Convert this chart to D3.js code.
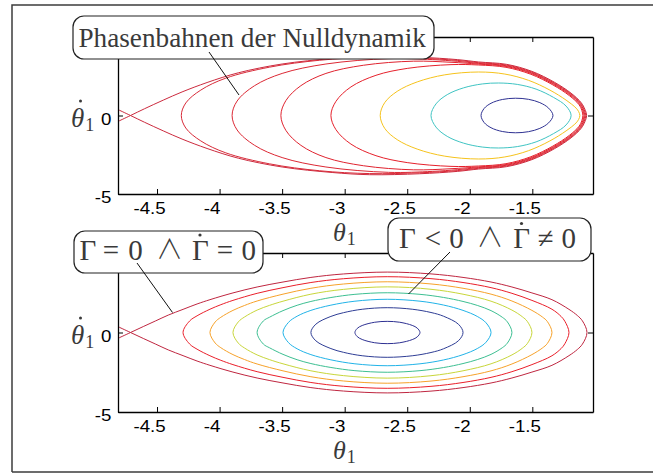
<!DOCTYPE html>
<html>
<head>
<meta charset="utf-8">
<script src="https://cdn.jsdelivr.net/npm/d3@7"></script>
<style>
  body { margin: 0; background: #fff; }
  svg { display: block; }
</style>
</head>
<body>
<svg id="fig" width="653" height="473"></svg>
<script>
// ---- axes ----
const xDomain = [-4.812, -1.015];
const yDomain = [-5, 5];
const xTicks = [-4.5, -4, -3.5, -3, -2.5, -2, -1.5];
const xTickLabels = ["-4.5", "-4", "-3.5", "-3", "-2.5", "-2", "-1.5"];
const yTicks = [-5, 0, 5];
const yTickLabels = ["-5", "0", ""];

// ---- upper halves of the phase orbits [theta1, dtheta1]; lower halves mirror them ----
// zero dynamics, upper panel
const topSeparatrix = [[-4.81,-0.37],[-4.712,0],[-4.6,0.43],[-4.45,0.98],[-4.3,1.5],[-4.1,2.1],[-3.85,2.72],[-3.5,3.28],[-3.1,3.63],[-2.8,3.77],[-2.4,3.71],[-2.1,3.56],[-1.93,3.41],[-1.707,3.26],[-1.503,2.81],[-1.324,2.12],[-1.19,1.42],[-1.11,0.82],[-1.08,0.4],[-1.066,0]];
const topOrbit1 = [[-4.306,0],[-4.27,0.8],[-4.15,1.62],[-3.95,2.38],[-3.6,3.08],[-3.2,3.52],[-2.8,3.70],[-2.4,3.65],[-2.1,3.51],[-1.93,3.363],[-1.708,3.215],[-1.505,2.767],[-1.327,2.08],[-1.193,1.385],[-1.114,0.79],[-1.086,0.38],[-1.073,0]];
const topOrbit2 = [[-3.90,0],[-3.86,0.92],[-3.72,1.9],[-3.5,2.68],[-3.15,3.28],[-2.65,3.62],[-2.3,3.56],[-2.1,3.45],[-1.93,3.318],[-1.709,3.17],[-1.507,2.724],[-1.330,2.04],[-1.196,1.35],[-1.118,0.76],[-1.091,0.36],[-1.08,0]];
const topOrbit3 = [[-3.51,0],[-3.47,0.95],[-3.35,1.9],[-3.15,2.68],[-2.85,3.2],[-2.45,3.46],[-2.15,3.39],[-1.93,3.274],[-1.710,3.126],[-1.509,2.682],[-1.333,2.0],[-1.2,1.31],[-1.123,0.725],[-1.097,0.34],[-1.087,0]];
const topOrbit4 = [[-3.11,0],[-3.07,0.9],[-2.95,1.82],[-2.75,2.56],[-2.5,3.0],[-2.15,3.24],[-1.93,3.217],[-1.711,3.07],[-1.512,2.627],[-1.336,1.95],[-1.204,1.265],[-1.127,0.69],[-1.104,0.32],[-1.096,0]];
const topOrbit5 = [[-2.716,0],[-2.68,0.82],[-2.58,1.54],[-2.42,2.14],[-2.20,2.59],[-1.93,2.77],[-1.72,2.64],[-1.53,2.24],[-1.36,1.62],[-1.23,0.98],[-1.15,0.47],[-1.13,0.25],[-1.12,0]];
const topOrbit6 = [[-2.31,0],[-2.27,0.74],[-2.18,1.33],[-2.05,1.76],[-1.90,2.01],[-1.77,2.07],[-1.62,1.98],[-1.47,1.68],[-1.33,1.15],[-1.23,0.6],[-1.19,0]];
const topOrbit7 = [[-1.91,0],[-1.885,0.45],[-1.83,0.78],[-1.74,1.02],[-1.635,1.10],[-1.53,1.03],[-1.44,0.82],[-1.37,0.47],[-1.335,0]];

// lower panel
const botSeparatrix = [[-4.81,-0.36],[-4.712,0],[-4.61,0.374],[-4.51,0.735],[-4.41,1.095],[-4.292,1.456],[-4.18,1.794],[-4.077,2.064],[-3.893,2.49],[-3.70,2.862],[-3.493,3.175],[-3.27,3.465],[-3.01,3.682],[-2.66,3.80],[-2.31,3.686],[-2.054,3.465],[-1.83,3.175],[-1.663,2.862],[-1.503,2.49],[-1.343,2.064],[-1.207,1.456],[-1.14,1.068],[-1.10,0.735],[-1.063,0]];
const botOrbit1 = [[-4.292,0],[-4.24,0.72],[-4.18,1.049],[-4.077,1.463],[-3.99,1.749],[-3.893,2.02],[-3.70,2.464],[-3.493,2.821],[-3.27,3.144],[-3.01,3.382],[-2.66,3.51],[-2.31,3.386],[-2.054,3.144],[-1.83,2.821],[-1.663,2.464],[-1.503,2.02],[-1.343,1.463],[-1.27,1.01],[-1.24,0.707],[-1.207,0]];
const botOrbit2 = [[-4.077,0],[-4.035,0.663],[-3.99,0.957],[-3.893,1.391],[-3.80,1.702],[-3.70,1.981],[-3.493,2.412],[-3.27,2.782],[-3.01,3.049],[-2.66,3.19],[-2.31,3.054],[-2.054,2.782],[-1.83,2.412],[-1.663,1.981],[-1.503,1.391],[-1.42,0.978],[-1.38,0.69],[-1.343,0]];
const botOrbit3 = [[-3.893,0],[-3.85,0.67],[-3.80,0.978],[-3.70,1.41],[-3.60,1.708],[-3.493,1.969],[-3.27,2.409],[-3.01,2.712],[-2.66,2.87],[-2.31,2.718],[-2.054,2.409],[-1.83,1.969],[-1.663,1.41],[-1.58,0.991],[-1.54,0.696],[-1.503,0]];
const botOrbit4 = [[-3.70,0],[-3.65,0.728],[-3.60,0.964],[-3.493,1.375],[-3.38,1.712],[-3.27,1.953],[-3.11,2.2],[-2.918,2.4],[-2.66,2.5],[-2.398,2.4],[-2.21,2.205],[-2.054,1.953],[-1.94,1.704],[-1.83,1.375],[-1.74,0.958],[-1.70,0.673],[-1.663,0]];
const botOrbit5 = [[-3.493,0],[-3.45,0.631],[-3.38,1.025],[-3.27,1.391],[-3.11,1.72],[-2.918,1.969],[-2.66,2.09],[-2.398,1.969],[-2.21,1.727],[-2.054,1.391],[-1.94,1.01],[-1.87,0.61],[-1.83,0]];
const botOrbit6 = [[-3.27,0],[-3.23,0.526],[-3.11,1.012],[-3.01,1.246],[-2.86,1.462],[-2.66,1.56],[-2.46,1.464],[-2.31,1.258],[-2.21,1.024],[-2.09,0.514],[-2.054,0]];
const botOrbit7 = [[-2.918,0],[-2.90,0.255],[-2.86,0.44],[-2.76,0.644],[-2.66,0.70],[-2.56,0.645],[-2.46,0.447],[-2.42,0.276],[-2.398,0]];

// ---- styling ----
const topOrbits = [topOrbit1, topOrbit2, topOrbit3, topOrbit4, topOrbit5, topOrbit6, topOrbit7];
const topColors = ["#d82a38", "#dc2834", "#e0232f", "#e6202b", "#f6c31c", "#3fc4c3", "#2e3192"];
const topSepColor = "#cc2a3e";
const botOrbits = [botOrbit1, botOrbit2, botOrbit3, botOrbit4, botOrbit5, botOrbit6, botOrbit7];
const botColors = ["#ea1f2a", "#f7a22a", "#c8d63a", "#3dbf92", "#21b3e8", "#2e3d95", "#2e3192"];
const botSepColor = "#bf2640";

const serif = "'Liberation Serif', 'Times New Roman', serif";
const sans = "'Liberation Sans', Arial, sans-serif";
const wedgeFont = "'Noto Sans CJK JP', 'Noto Sans CJK SC', 'DejaVu Sans', sans-serif";
const textGrey = "#3a3a3a";

const svg = d3.select("#fig");

// figure frame
svg.append("path")
  .attr("d", "M12,472V5H653M12,472H653")
  .attr("fill", "none").attr("stroke", "#3c3c3c").attr("stroke-width", 1.5);

// closed orbit: upper half then mirrored lower half
function closedOrbit(upper) {
  const lower = upper.slice(1, -1).reverse().map(([t, w]) => [t, -w]);
  return upper.concat(lower);
}
// separatrix: runs through the saddle and back
function openSeparatrix(upper) {
  const lower = upper.slice(0, -1).reverse().map(([t, w]) => [t, -w]);
  return upper.concat(lower);
}

function drawPanel(box, sep, sepColor, orbits, colors, id) {
  const x = d3.scaleLinear().domain(xDomain).range([box.left, box.right]);
  const y = d3.scaleLinear().domain(yDomain).range([box.bottom, box.top]);
  const g = svg.append("g");

  g.append("clipPath").attr("id", id)
    .append("rect")
    .attr("x", box.left).attr("y", box.top)
    .attr("width", box.right - box.left).attr("height", box.bottom - box.top);

  const plot = g.append("g").attr("clip-path", `url(#${id})`);
  const closed = d3.line().x(d => x(d[0])).y(d => y(d[1])).curve(d3.curveCatmullRomClosed.alpha(0.5));
  const open = d3.line().x(d => x(d[0])).y(d => y(d[1])).curve(d3.curveCatmullRom.alpha(0.5));

  plot.append("path").attr("d", open(openSeparatrix(sep)))
    .attr("fill", "none").attr("stroke", sepColor).attr("stroke-width", 1);
  orbits.forEach((o, i) => {
    plot.append("path").attr("d", closed(closedOrbit(o)))
      .attr("fill", "none").attr("stroke", colors[i]).attr("stroke-width", 1);
  });

  // axes: ticks point inward on all four sides
  const ax = [
    d3.axisBottom(x).tickValues(xTicks).tickFormat((d, i) => xTickLabels[i]).tickSizeInner(-5).tickSizeOuter(0).tickPadding(8),
    d3.axisTop(x).tickValues(xTicks).tickFormat("").tickSizeInner(-5).tickSizeOuter(0),
    d3.axisLeft(y).tickValues(yTicks).tickFormat((d, i) => yTickLabels[i]).tickSizeInner(-5).tickSizeOuter(0).tickPadding(6),
    d3.axisRight(y).tickValues(yTicks).tickFormat("").tickSizeInner(-5).tickSizeOuter(0)
  ];
  const pos = [`translate(0,${box.bottom})`, `translate(0,${box.top})`, `translate(${box.left},0)`, `translate(${box.right},0)`];
  ax.forEach((a, i) => {
    const ag = g.append("g").attr("transform", pos[i]).call(a);
    ag.select(".domain").attr("stroke", "#000").attr("stroke-width", 1.3);
    ag.selectAll(".tick line").attr("stroke", "#000").attr("stroke-width", 1);
    ag.selectAll("text").attr("fill", "#000")
      .style("font-family", sans).style("font-size", "17px");
    if (i === 0) ag.selectAll("text").attr("transform", "translate(-8,0) scale(1.1,1)");
    if (i === 2) ag.selectAll("text").attr("dy", "0.5em").attr("transform", "scale(1.1,1)");
  });

  // x label  theta_1
  const xl = g.append("text")
    .attr("x", 333).attr("y", box.bottom + 47)
    .style("font-family", serif).style("font-size", "26px").attr("fill", textGrey);
  xl.append("tspan").style("font-style", "italic").text("θ");
  xl.append("tspan").attr("dy", 4).attr("dx", 1).style("font-size", "18px").text("1");

  // y label  dot theta_1
  const y0 = y(0);
  const yl = g.append("text")
    .attr("x", 71).attr("y", y0 + 11)
    .style("font-family", serif).style("font-size", "27px").attr("fill", textGrey);
  yl.append("tspan").style("font-style", "italic").text("θ");
  yl.append("tspan").attr("dy", 4).attr("dx", 1).style("font-size", "18px").text("1");
  g.append("circle").attr("cx", 80.5).attr("cy", y0 - 14.5).attr("r", 1.5).attr("fill", textGrey);

  return { x, y };
}

const topBox = { left: 118, right: 593, top: 37, bottom: 194 };
const botBox = { left: 118, right: 593, top: 253, bottom: 412 };
drawPanel(topBox, topSeparatrix, topSepColor, topOrbits, topColors, "clipTop");
drawPanel(botBox, botSeparatrix, botSepColor, botOrbits, botColors, "clipBot");

// ---- annotations ----
function roundBox(x0, y0, x1, y1) {
  svg.append("rect").attr("x", x0).attr("y", y0).attr("width", x1 - x0).attr("height", y1 - y0)
    .attr("rx", 11).attr("ry", 11)
    .attr("fill", "#fff").attr("stroke", "#222").attr("stroke-width", 1.2);
}
function leader(x0, y0, x1, y1) {
  svg.append("line").attr("x1", x0).attr("y1", y0).attr("x2", x1).attr("y2", y1)
    .attr("stroke", "#111").attr("stroke-width", 1);
}
// text fitted horizontally between two x positions
function fitted(str, xStart, xEnd, baseline, size) {
  const t = svg.append("text").attr("x", 0).attr("y", baseline)
    .style("font-family", serif).style("font-size", size + "px").attr("fill", textGrey).text(str);
  const w = t.node().getComputedTextLength();
  t.attr("transform", `translate(${xStart},0) scale(${(xEnd - xStart) / w},1)`);
  return t;
}
// math tokens placed by their centres
function tokens(list, baseline) {
  list.forEach(([s, xc]) => {
    const wedge = s === "∧";
    svg.append("text").attr("x", xc).attr("y", wedge ? baseline - 1 : baseline)
      .attr("text-anchor", "middle")
      .style("font-family", wedge ? wedgeFont : serif)
      .style("font-weight", wedge ? 300 : 400)
      .style("font-size", wedge ? "27px" : "29px").attr("fill", textGrey).text(s);
  });
}

roundBox(73, 16, 434, 59);
fitted("Phasenbahnen der Nulldynamik", 78.5, 426, 47, 27.5);
leader(209, 52, 239, 95);

roundBox(74, 231, 263, 273);
tokens([["Γ", 88], ["=", 111], ["0", 135.5], ["∧", 169.5], ["Γ", 200.5], ["=", 225], ["0", 248.7]], 259.5);
svg.append("circle").attr("cx", 200).attr("cy", 235).attr("r", 1.6).attr("fill", textGrey);
leader(137, 263, 172.5, 312.5);

roundBox(388, 218, 591, 261);
tokens([["Γ", 407.5], ["<", 433], ["0", 456.5], ["∧", 490], ["Γ", 521.7], ["≠", 545.8], ["0", 568.8]], 247.5);
svg.append("circle").attr("cx", 521.5).attr("cy", 223.5).attr("r", 1.6).attr("fill", textGrey);
leader(450, 252, 408.5, 294);
</script>
</body>
</html>
